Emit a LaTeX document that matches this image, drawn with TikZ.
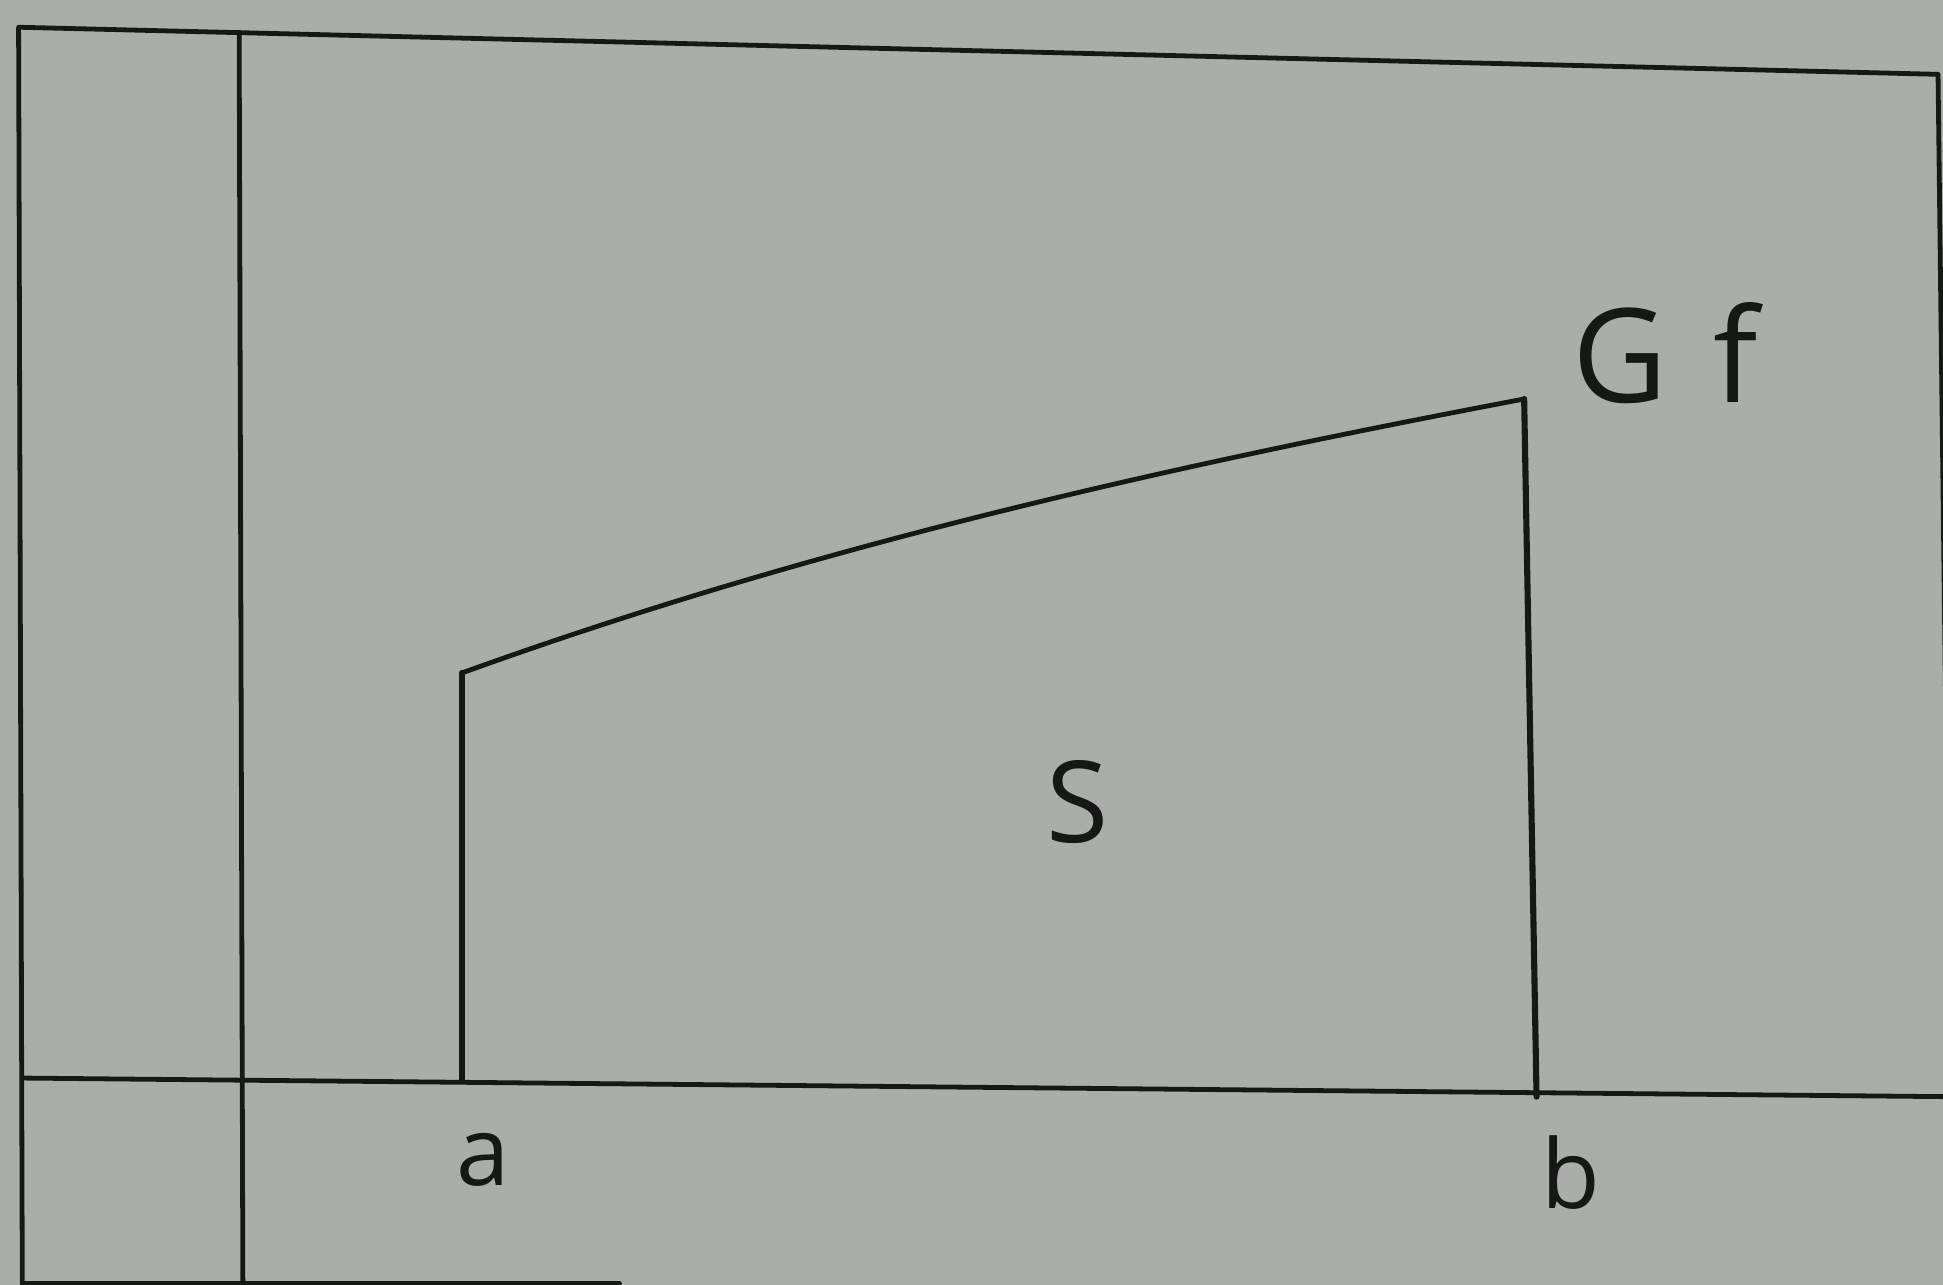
\documentclass[tikz,border=0pt]{standalone}
\usepackage{fontspec}
\setmainfont{Open Sans}
\usetikzlibrary{positioning}
\definecolor{paper}{HTML}{AAADA8}
\definecolor{pen}{HTML}{161816}
\tikzset{
  ink/.style={draw=pen, line width=1.1pt, line cap=round, line join=round},
  inkb/.style={ink, line width=1.4pt},
  hand/.style={text=pen, inner sep=0pt, font=\fontsize{#1}{#1}\selectfont},
  hand/.default=22,
}
\begin{document}
\begin{tikzpicture}[x=0.01cm,y=-0.01cm]
  \fill[paper] (0,0) rectangle (1568,1037);
  \useasboundingbox (0,0) rectangle (1568,1037);
  % frame of the sheet
  \coordinate (tl) at (15,22);
  \coordinate (tr) at (1564,60);
  \coordinate (rr) at (1570,560);
  \coordinate (bl) at (18,1036);
  \coordinate (bm) at (500,1036);
  \draw[ink] (bl) -- (tl) -- (tr) -- (rr);
  \draw[ink] (bl) -- (bm);
  % axes
  \coordinate (oy0) at (193,26);
  \coordinate (oy1) at (196,1037);
  \coordinate (ox0) at (18,870);
  \coordinate (ox1) at (1568,885);
  \draw[ink] (oy0) -- (oy1);
  \draw[ink] (ox0) -- (ox1);
  % region under the graph
  \coordinate (pa) at (373,872);
  \coordinate (fa) at (373,543);
  \coordinate (fb) at (1230,322);
  \coordinate (pb) at (1240,885);
  \draw[inkb] (pa) -- (fa);
  \draw[ink] (fa) .. controls (658,440) and (945,376) .. (fb);
  \draw[inkb] (fb) -- (pb);
  % labels
  \node[hand, anchor=base] (la) at (390,957) {a};
  \node[hand, anchor=base] (lb) at (1268,975) {b};
  \node[hand=26, anchor=base] (ls) at (870,680) {S};
  \node[hand=30, anchor=base west] (lg) at (1268,325) {G\hspace{0.35em}f};
\end{tikzpicture}
\end{document}
